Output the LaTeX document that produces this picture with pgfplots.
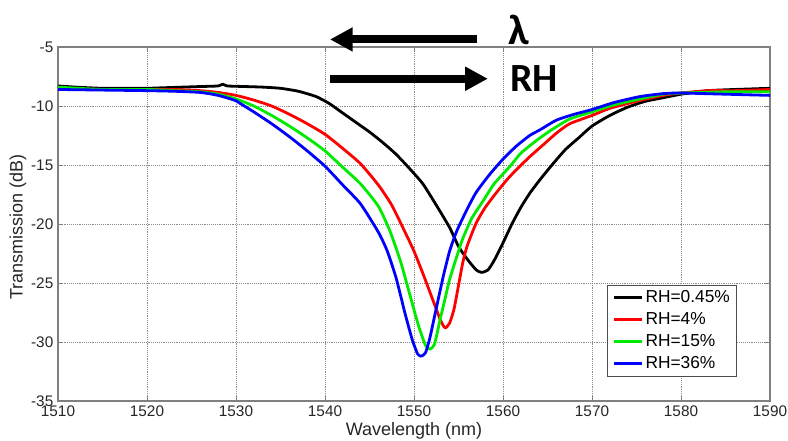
\documentclass[border=0pt]{standalone}
\usepackage{pgfplots}
\pgfplotsset{compat=1.18}
\usetikzlibrary{arrows.meta}
\usepackage{fontspec}
\setmainfont{Liberation Sans}
\newfontfamily\calibri{Carlito}
\definecolor{mgreen}{RGB}{0,235,0}
\begin{document}
\begin{tikzpicture}[x=1pt,y=1pt]
\useasboundingbox (0,0) rectangle (591,330);
\begin{axis}[
  at={(43.5pt,29.25pt)}, anchor=south west,
  width=534pt, height=265.5pt, scale only axis,
  xmin=1510, xmax=1590, ymin=-35, ymax=-5,
  xtick={1510,1520,...,1590}, ytick={-35,-30,...,-5},
  grid=major, grid style={densely dotted, gray!90, line width=0.6pt},
  axis line style={gray, line width=0.8pt},
  tick style={gray, line width=0.6pt},
  tick align=inside, major tick length=4pt,
  ticklabel style={font=\fontsize{11.5}{13}\selectfont, text=black!85},
  /pgf/number format/assume math mode=true,
  /pgf/number format/set thousands separator={},
  xlabel={Wavelength (nm)}, ylabel={Transmission (dB)},
  every axis y label/.style={at={(rel axis cs:0,0.5)}, xshift=-30pt, yshift=-2pt, rotate=90, anchor=center,
     font=\fontsize{13.5}{15}\selectfont, text=black!85},
  every axis x label/.style={at={(rel axis cs:0.5,0)}, yshift=-22.5pt, anchor=center,
     font=\fontsize{13.5}{15}\selectfont, text=black!85},
  clip=false,
  legend style={at={(0.954,0.328)}, anchor=north east, draw=gray!60!black, line width=0.6pt,
    fill=white, font=\fontsize{13}{15}\selectfont, row sep=0pt, column sep=0pt,
    inner xsep=3.75pt, inner ysep=1pt,
    nodes={inner sep=1.5pt, text height=10.5pt, text depth=3pt}},
  legend cell align=left,
  legend image code/.code={\draw[#1, line width=2pt] (0pt,0pt) -- (21pt,0pt);},
  every axis plot/.append style={line width=2.1pt, line join=round, smooth, tension=0.35},
]
\addplot[black] coordinates {
(1510,-8.3) (1512,-8.4) (1515,-8.5) (1518,-8.5) (1520,-8.5) (1522,-8.45) (1524,-8.4)
(1526,-8.35) (1528,-8.3) (1528.5,-8.15) (1529,-8.3) (1531,-8.35) (1533,-8.4) (1535,-8.5)
(1537,-8.75) (1539,-9.2) (1540.5,-9.8) (1542,-10.6) (1543.5,-11.4) (1545,-12.2)
(1546.5,-13.1) (1548,-14.1) (1549.5,-15.3) (1551,-16.6) (1552.5,-18.4) (1554,-20.3)
(1555,-21.9) (1556,-23.0) (1557,-23.9) (1557.6,-24.1) (1558.3,-23.9) (1559,-23.1)
(1560,-21.6) (1561,-20.0) (1562,-18.6) (1563,-17.4) (1564.2,-16.2) (1565.5,-15.0)
(1567,-13.7) (1568.5,-12.7) (1570,-11.7) (1572,-10.8) (1574,-10.1) (1576,-9.6)
(1578,-9.3) (1580,-9.0) (1583,-8.7) (1586,-8.6) (1590,-8.5)
};
\addlegendentry{RH=0.45\%}
\addplot[red] coordinates {
(1510,-8.5) (1515,-8.6) (1520,-8.6) (1523,-8.6) (1526,-8.7) (1528,-8.85) (1530,-9.1)
(1532,-9.5) (1534,-10.0) (1536,-10.7) (1538,-11.5) (1540,-12.4) (1542,-13.6) (1544,-14.9)
(1546,-16.7) (1547.5,-18.4) (1549,-20.7) (1550,-22.3) (1551,-24.2) (1552,-26.2)
(1553,-28.2) (1553.5,-28.8) (1554,-28.4) (1554.5,-27.2) (1555,-25.2) (1555.5,-23.2)
(1556,-21.8) (1557,-19.9) (1558,-18.6) (1559.3,-17.3) (1560.5,-16.2) (1561.5,-15.4)
(1563,-14.3) (1564.5,-13.3) (1566,-12.3) (1567.5,-11.5) (1570,-10.8) (1572,-10.2)
(1575,-9.6) (1578,-9.1) (1580,-8.9) (1583,-8.7) (1586,-8.7) (1590,-8.6)
};
\addlegendentry{RH=4\%}
\addplot[mgreen] coordinates {
(1510,-8.4) (1515,-8.6) (1520,-8.6) (1523,-8.7) (1526,-8.8) (1528,-9.0) (1530,-9.4)
(1532,-10.0) (1534,-10.8) (1536,-11.7) (1538,-12.7) (1540,-13.8) (1542,-15.2) (1544,-16.6)
(1546,-18.5) (1547.3,-20.6) (1548.5,-23.2) (1549.5,-25.9) (1550.5,-28.6) (1551.3,-30.3)
(1551.8,-30.6) (1552.3,-30.2) (1552.9,-28.2) (1553.5,-26.3) (1554,-24.7) (1555,-22.3)
(1555.5,-21.2) (1556.5,-19.5) (1557.8,-18.0) (1559,-16.6) (1560.8,-15.1) (1562,-14.0)
(1563.8,-12.9) (1565.5,-12.0) (1567.5,-11.1) (1570,-10.5) (1572.5,-9.9) (1575.4,-9.4)
(1578,-9.0) (1580,-8.9) (1585,-8.8) (1590,-8.8)
};
\addlegendentry{RH=15\%}
\addplot[blue] coordinates {
(1510,-8.6) (1515,-8.65) (1520,-8.7) (1523,-8.75) (1526,-8.85) (1528,-9.1) (1530,-9.55)
(1530.4,-9.75) (1532,-10.5) (1534,-11.5) (1536,-12.6) (1538,-13.8) (1540,-15.1) (1542,-16.7)
(1544,-18.3) (1546,-20.7) (1547,-22.3) (1548,-24.6) (1549,-27.6) (1549.8,-29.8)
(1550.4,-31.0) (1550.8,-31.2) (1551.3,-30.9) (1551.8,-29.6) (1552.4,-27.5) (1553.3,-24.4)
(1554,-22.3) (1554.8,-20.6) (1556,-18.7) (1557,-17.3) (1558.5,-15.8) (1560,-14.5)
(1561.5,-13.4) (1563,-12.5) (1564.2,-12.0) (1566,-11.2) (1568,-10.7) (1570,-10.3)
(1572.5,-9.7) (1575.4,-9.2) (1578,-8.95) (1580,-8.9) (1585,-9.0) (1590,-9.1)
};
\addlegendentry{RH=36\%}
\draw[line width=6pt, -{Triangle[length=17pt,width=17pt]}] (axis cs:1557.08,-4.36) -- (axis cs:1540.56,-4.36);
\draw[line width=6pt, -{Triangle[length=17pt,width=17pt]}] (axis cs:1540.56,-7.69) -- (axis cs:1558.3,-7.69);
\node[anchor=base west, inner sep=0pt, font=\calibri\bfseries\fontsize{32}{32}\selectfont] at (axis cs:1560.56,-4.83) {λ};
\node[anchor=base west, inner sep=0pt, font=\calibri\bfseries\fontsize{30}{30}\selectfont] at (axis cs:1560.79,-8.73) {RH};
\end{axis}
\end{tikzpicture}
\end{document}
